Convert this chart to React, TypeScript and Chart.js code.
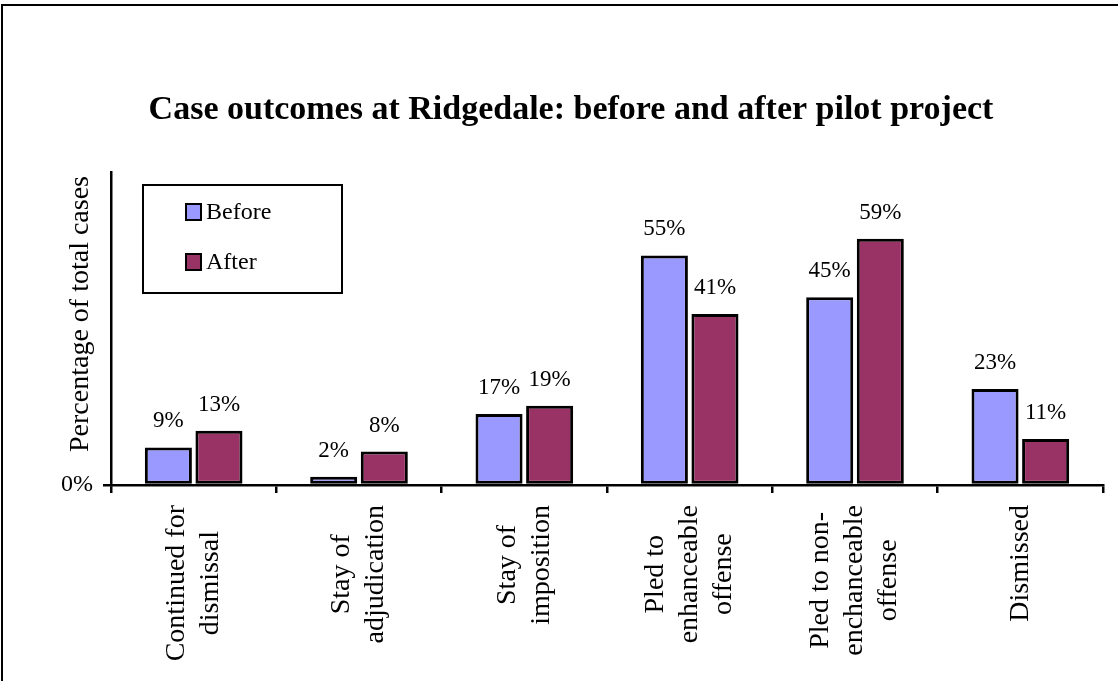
import React, { useEffect, useRef } from "react";
import { Chart, registerables } from "chart.js";

Chart.register(...registerables);

const chartTitle = "Case outcomes at Ridgedale: before and after pilot project";
const yAxisTitle = "Percentage of total cases";
const categories: string[][] = [
  ["Continued for", "dismissal"],
  ["Stay of", "adjudication"],
  ["Stay of", "imposition"],
  ["Pled to", "enhanceable", "offense"],
  ["Pled to non-", "enchanceable", "offense"],
  ["Dismissed"],
];
const seriesNames = ["Before", "After"];
const beforeValues = [9, 2, 17, 55, 45, 23];
const afterValues = [13, 8, 19, 41, 59, 11];
const seriesColors = ["#9999FF", "#993366"];
const yTickValues = [0];
const yMax = 75;

const FONT = '"Liberation Serif", "Times New Roman", serif';

const decorPlugin = {
  id: "decor",
  afterDraw(chart: any) {
    const ctx: CanvasRenderingContext2D = chart.ctx;
    const xs = chart.scales.x;
    ctx.save();
    // outer frame (top and left edges visible)
    ctx.strokeStyle = "#000";
    ctx.lineWidth = 2;
    ctx.beginPath();
    ctx.moveTo(2, 681);
    ctx.lineTo(2, 5);
    ctx.lineTo(1118, 5);
    ctx.stroke();

    // title
    ctx.fillStyle = "#000";
    ctx.font = `bold 34px ${FONT}`;
    ctx.textAlign = "center";
    ctx.textBaseline = "alphabetic";
    ctx.fillText(chartTitle, 571, 119);

    // y axis title
    ctx.save();
    ctx.translate(81, 314);
    ctx.rotate(-Math.PI / 2);
    ctx.font = `28px ${FONT}`;
    ctx.textAlign = "center";
    ctx.textBaseline = "middle";
    ctx.fillText(yAxisTitle, 0, 0);
    ctx.restore();

    // category labels (rotated, lines centred, block anchored under axis)
    ctx.font = `28px ${FONT}`;
    const labels = chart.data.labels as string[][];
    labels.forEach((lines, i) => {
      const cx = xs.getPixelForValue(i);
      const top = xs.top + 20;
      const maxW = Math.max(...lines.map((l) => ctx.measureText(l).width));
      ctx.save();
      ctx.translate(cx, top);
      ctx.rotate(-Math.PI / 2);
      ctx.textAlign = "center";
      ctx.textBaseline = "middle";
      lines.forEach((l, j) => {
        ctx.fillText(l, -maxW / 2, (j - (lines.length - 1) / 2) * 34);
      });
      ctx.restore();
    });

    // data labels
    ctx.font = `23px ${FONT}`;
    ctx.textAlign = "center";
    ctx.textBaseline = "alphabetic";
    ctx.fillStyle = "#000";
    chart.data.datasets.forEach((ds: any, di: number) => {
      const meta = chart.getDatasetMeta(di);
      meta.data.forEach((bar: any, i: number) => {
        ctx.fillText(ds.data[i] + "%", bar.x, bar.y - 20);
      });
    });

    // legend box
    ctx.lineWidth = 2;
    ctx.strokeStyle = "#000";
    ctx.fillStyle = "#fff";
    ctx.fillRect(143, 185, 199, 108);
    ctx.strokeRect(143, 185, 199, 108);
    chart.data.datasets.forEach((ds: any, i: number) => {
      const yy = 212 + i * 50;
      ctx.fillStyle = ds.backgroundColor;
      ctx.fillRect(186, yy - 8, 15, 16);
      ctx.lineWidth = 2;
      ctx.strokeStyle = "#000";
      ctx.strokeRect(186, yy - 8, 15, 16);
      ctx.fillStyle = "#000";
      ctx.font = `24px ${FONT}`;
      ctx.textAlign = "left";
      ctx.textBaseline = "middle";
      ctx.fillText(ds.label, 206, yy + 1);
    });
    ctx.restore();
  },
};

export default function App() {
  const canvasRef = useRef<HTMLCanvasElement | null>(null);

  useEffect(() => {
    document.body.style.margin = "0";
    const canvas = canvasRef.current;
    if (!canvas) return;
    const chart = new Chart(canvas, {
      type: "bar",
      data: {
        labels: categories,
        datasets: [
          {
            label: seriesNames[0],
            data: beforeValues,
            backgroundColor: seriesColors[0],
            borderColor: "#000",
            borderWidth: 3,
            borderSkipped: false,
            categoryPercentage: 0.612,
            barPercentage: 0.93,
          },
          {
            label: seriesNames[1],
            data: afterValues,
            backgroundColor: seriesColors[1],
            borderColor: "#000",
            borderWidth: 3,
            borderSkipped: false,
            categoryPercentage: 0.612,
            barPercentage: 0.93,
          },
        ],
      },
      options: {
        animation: false,
        responsive: true,
        maintainAspectRatio: false,
        layout: { padding: { left: 0, top: 172, right: 15, bottom: 0 } },
        plugins: {
          legend: { display: false },
          title: { display: false },
          tooltip: { enabled: false },
        },
        scales: {
          x: {
            ticks: { display: false },
            grid: {
              drawOnChartArea: false,
              drawTicks: true,
              tickLength: 8,
              color: "#000",
              lineWidth: 2.5,
              offset: true,
            },
            border: { display: true, color: "#000", width: 2.5 },
            afterFit: (s: any) => {
              s.height = 196;
              s.paddingLeft = 0;
              s.paddingRight = 0;
            },
          },
          y: {
            min: 0,
            max: yMax,
            afterBuildTicks: (s: any) => {
              s.ticks = yTickValues.map((v) => ({ value: v }));
            },
            ticks: {
              callback: (v: any) => v + "%",
              padding: 10,
              color: "#000",
              font: { family: FONT, size: 24 },
            },
            grid: {
              drawOnChartArea: false,
              drawTicks: true,
              tickLength: 8,
              color: "#000",
              lineWidth: 2.5,
            },
            border: { display: true, color: "#000", width: 2.5 },
            afterFit: (s: any) => {
              s.width = 111;
              s.paddingTop = 0;
              s.paddingBottom = 0;
            },
          },
        },
      },
      plugins: [decorPlugin],
    });
    return () => chart.destroy();
  }, []);

  return (
    <div style={{ position: "relative", width: 1118, height: 681, background: "#fff" }}>
      <canvas ref={canvasRef} />
    </div>
  );
}
